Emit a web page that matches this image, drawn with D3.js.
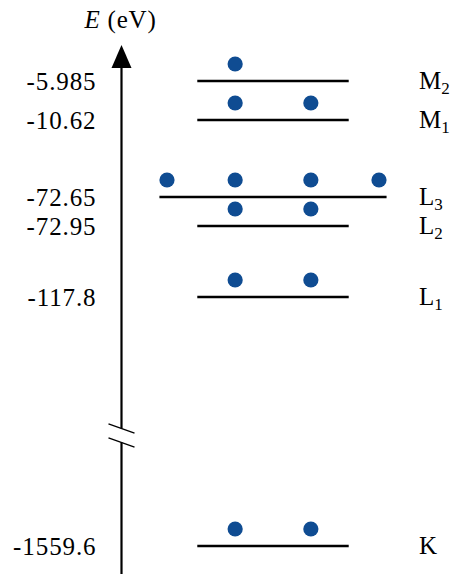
<!DOCTYPE html>
<html><head><meta charset="utf-8">
<script src="https://cdn.jsdelivr.net/npm/d3@7"></script>
<style>html,body{margin:0;padding:0;background:#fff;} svg{display:block;}
svg text{font-family:"Liberation Serif","DejaVu Serif",serif;}</style>
</head><body><svg id="c" width="456" height="574"></svg>
<script>
// ---- data ----
const levels = ["M2","M1","L3","L2","L1","K"];
const shellLetters = ["M","M","L","L","L","K"];
const subscripts = ["2","1","3","2","1",""];
const energies = [-5.985,-10.62,-72.65,-72.95,-117.8,-1559.6];
const tickLabels = ["-5.985","-10.62","-72.65","-72.95","-117.8","-1559.6"];
const electrons = [1,2,4,2,2,2];
const axisTitle = "E";
const axisUnit = " (eV)";

// ---- layout ----
const W = 456, H = 574;
const levelY = [81,120,197,226,297,546];   // schematic (non-linear) placement of levels
const axisX = 121.5;
const dotColor = "#0f4c92";

const svg = d3.select("#c");
const y = d3.scaleLinear().domain(energies).range(levelY);
const xs = d3.scaleLinear().domain([-1.4,1.4]).range([167,379]);

const slotsFor = n => n===1 ? [-0.5] : n===2 ? [-0.5,0.5] : [-1.4,-0.5,0.5,1.4];
const halfSpan = n => n>2 ? 1.5 : 1;

const data = levels.map((k,i)=>({k, E:energies[i], n:electrons[i], letter:shellLetters[i], sub:subscripts[i]}));

// level lines
svg.append("g").selectAll("line").data(data).join("line")
  .attr("x1", d=>xs(-halfSpan(d.n))).attr("x2", d=>xs(halfSpan(d.n)))
  .attr("y1", d=>y(d.E)).attr("y2", d=>y(d.E))
  .attr("stroke","#000").attr("stroke-width",2.3);

// electrons
const pts = data.flatMap(d=>slotsFor(d.n).map(s=>({s,E:d.E})));
svg.append("g").selectAll("circle").data(pts).join("circle")
  .attr("cx", d=>xs(d.s)).attr("cy", d=>y(d.E)-17).attr("r",7.6)
  .attr("fill",dotColor);

// tick labels via axis
const ax = svg.append("g").attr("transform",`translate(${axisX},0)`)
  .call(d3.axisLeft(y).tickValues(energies).tickFormat((d,i)=>tickLabels[i]).tickSize(0).tickPadding(25));
ax.select(".domain").remove();
ax.attr("font-family",null).attr("font-size",25);
ax.selectAll("text").attr("fill","#000").attr("dy","0.33em").attr("letter-spacing","0.9px");

// axis line with break
const breakTop = 428.5, breakBot = 442.5;
svg.append("line").attr("x1",axisX).attr("x2",axisX).attr("y1",66).attr("y2",breakTop)
  .attr("stroke","#000").attr("stroke-width",2.2);
svg.append("line").attr("x1",axisX).attr("x2",axisX).attr("y1",breakBot).attr("y2",H)
  .attr("stroke","#000").attr("stroke-width",2.2);
svg.append("path").attr("d",`M${axisX},45 L${axisX-10},68 L${axisX+10},68 Z`).attr("fill","#000");
[breakTop, breakBot].forEach(yc=>{
  svg.append("line").attr("x1",axisX-13).attr("y1",yc-4.7).attr("x2",axisX+13).attr("y2",yc+4.7)
    .attr("stroke","#000").attr("stroke-width",1.3);
});

// axis title
const t = svg.append("text").attr("x",axisX-1).attr("y",28).attr("text-anchor","middle")
  .attr("font-size",25).attr("fill","#000").attr("letter-spacing","0.8px");
t.append("tspan").attr("font-style","italic").text(axisTitle);
t.append("tspan").text(axisUnit);

// level labels
const lab = svg.append("g").selectAll("text").data(data).join("text")
  .attr("x",419).attr("y",d=>y(d.E)+8).attr("font-size",25).attr("fill","#000");
lab.append("tspan").text(d=>d.letter);
lab.append("tspan").attr("font-size",17).attr("dy",5).text(d=>d.sub);
</script></body></html>
